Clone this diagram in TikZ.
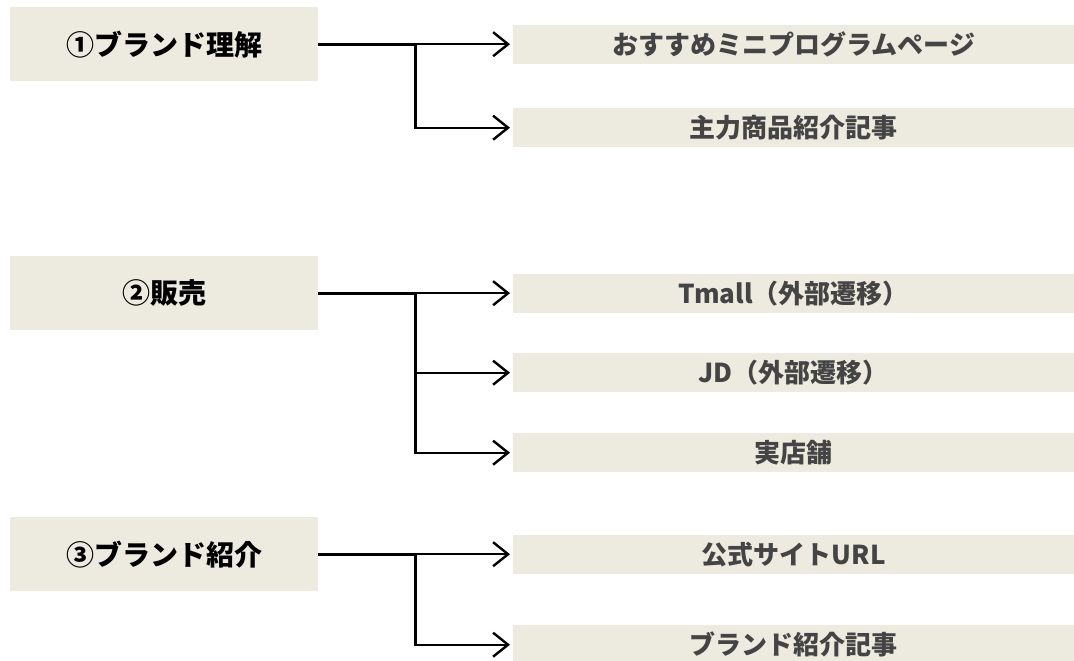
\documentclass[tikz,border=0pt]{standalone}
\usepackage{fontspec}
\setmainfont{Noto Sans CJK JP}
\usetikzlibrary{arrows.meta}
\definecolor{boxfill}{RGB}{237,235,224}
\definecolor{subtext}{RGB}{68,68,68}
\tikzset{
  mainbox/.style={fill=boxfill, minimum width=308pt, minimum height=74pt, inner sep=0pt, anchor=north west,
    font=\fontsize{28}{32}\selectfont\bfseries, text=black},
  subbox/.style={fill=boxfill, minimum width=561pt, minimum height=39pt, inner sep=0pt, anchor=north west,
    font=\fontsize{26}{30}\selectfont\bfseries, text=subtext},
  trunk/.style={line width=3pt},
  branch/.style={line width=2.4pt, -{Straight Barb[length=15pt,width=24pt]}, shorten >=3pt},
}
\begin{document}
\begin{tikzpicture}
\useasboundingbox (0,0) rectangle (1074pt,-661pt);
\clip (0,0) rectangle (1074pt,-661pt);
% main boxes
\node[mainbox] (m1) at (10pt,-7pt) {①ブランド理解};
\node[mainbox] (m2) at (10pt,-256pt) {②販売};
\node[mainbox] (m3) at (10pt,-517pt) {③ブランド紹介};
% sub boxes
\node[subbox] (s1) at (513pt,-25pt) {おすすめミニプログラムページ};
\node[subbox] (s2) at (513pt,-108pt) {主力商品紹介記事};
\node[subbox] (s3) at (513pt,-274pt) {Tmall（外部遷移）};
\node[subbox] (s4) at (513pt,-353pt) {JD（外部遷移）};
\node[subbox] (s5) at (513pt,-433pt) {実店舗};
\node[subbox] (s6) at (513pt,-535pt) {公式サイトURL};
\node[subbox] (s7) at (513pt,-625pt) {ブランド紹介記事};
% junctions
\coordinate (j1) at ([xshift=97pt]m1.east);
\coordinate (j2) at ([xshift=97pt]m2.east);
\coordinate (j3) at ([xshift=97pt]m3.east);
% connectors
\draw[trunk] (m1.east) -- (j1);
\draw[branch] (j1) -- (j1 -| s1.west);
\draw[branch] (j1) |- (s2.west);
\draw[trunk] (m2.east) -- (j2);
\draw[branch] (j2) -- (j2 -| s3.west);
\draw[branch] (j2) |- (s4.west);
\draw[branch] (j2) |- (s5.west);
\draw[trunk] (m3.east) -- (j3);
\draw[branch] (j3) -- (j3 -| s6.west);
\draw[branch] (j3) |- (s7.west);
\end{tikzpicture}
\end{document}
